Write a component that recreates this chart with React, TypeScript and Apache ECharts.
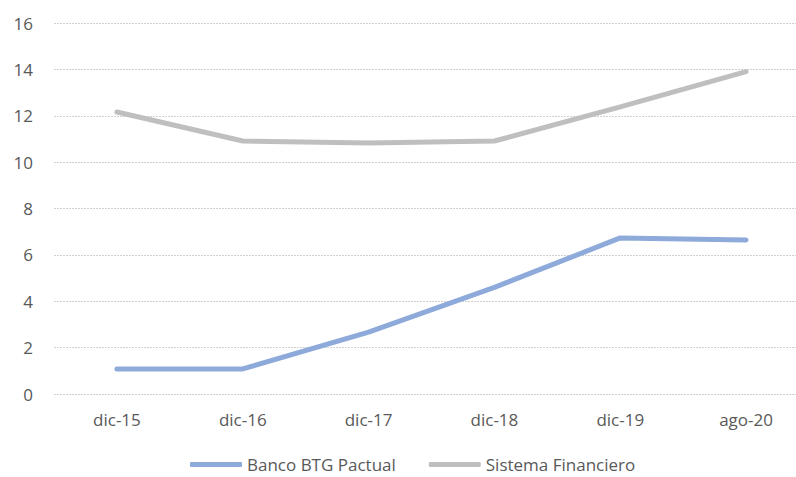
import React, { useEffect, useRef } from "react";
import * as echarts from "echarts";

const categories = ["dic-15", "dic-16", "dic-17", "dic-18", "dic-19", "ago-20"];
const btgValues = [1.08, 1.08, 2.67, 4.6, 6.73, 6.64];
const sistemaValues = [12.16, 10.91, 10.82, 10.91, 12.38, 13.9];
const seriesNames = ["Banco BTG Pactual", "Sistema Financiero"];

export default function App() {
  const ref = useRef<HTMLDivElement>(null);
  useEffect(() => {
    if (!ref.current) return;
    const chart = echarts.init(ref.current, undefined, { renderer: "svg" });
    const font = "Open Sans, Noto Sans, sans-serif";
    chart.setOption({
      animation: false,
      backgroundColor: "#ffffff",
      grid: { left: 54, right: 0, top: 23, bottom: 83 },
      legend: {
        top: 456,
        left: 190,
        itemWidth: 52,
        itemHeight: 5,
        itemGap: 33,
        icon: "roundRect",
        padding: 0,
        textStyle: { color: "#595959", fontSize: 17, fontFamily: font },
        data: seriesNames,
      },
      xAxis: {
        type: "category",
        data: categories,
        boundaryGap: true,
        axisLine: { show: false },
        axisTick: { show: false },
        axisLabel: { color: "#595959", fontSize: 17, fontFamily: font, margin: 17 },
      },
      yAxis: {
        type: "value",
        min: 0,
        max: 16,
        interval: 2,
        axisLine: { show: false },
        axisTick: { show: false },
        axisLabel: { color: "#595959", fontSize: 17, fontFamily: font, margin: 21 },
        splitLine: { lineStyle: { color: "#d0d0d0", type: [2, 1], width: 1 } },
      },
      series: [
        {
          name: seriesNames[0],
          type: "line",
          data: btgValues,
          symbol: "none",
          lineStyle: { color: "#8eaadb", width: 5, cap: "round" },
          itemStyle: { color: "#8eaadb" },
        },
        {
          name: seriesNames[1],
          type: "line",
          data: sistemaValues,
          symbol: "none",
          lineStyle: { color: "#bfbfbf", width: 5, cap: "round" },
          itemStyle: { color: "#bfbfbf" },
        },
      ],
    });
    return () => chart.dispose();
  }, []);
  return (
    <div style={{ width: 796, height: 477, position: "absolute", left: 0, top: 0, overflow: "hidden" }}>
      <div ref={ref} style={{ width: 809, height: 477 }} />
    </div>
  );
}
